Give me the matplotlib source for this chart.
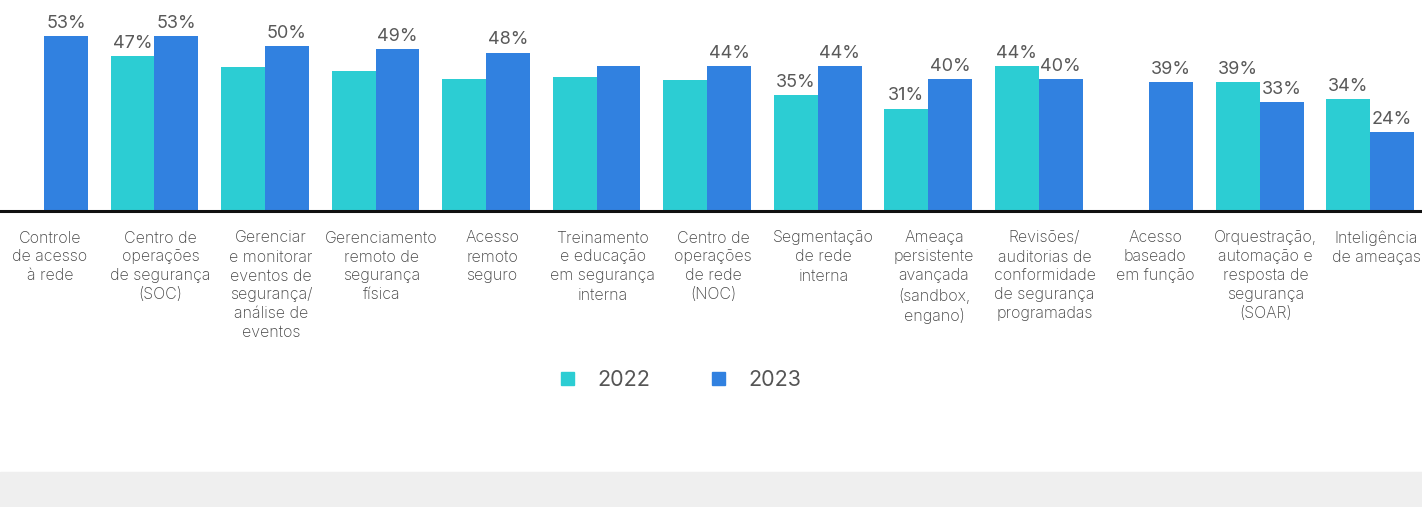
import numpy as np
import matplotlib.pyplot as plt
import matplotlib.transforms as mtransforms
from matplotlib.patches import Rectangle, Patch

plt.rcParams['font.family'] = ['Inter', 'DejaVu Sans']

categories = [
    "Controle\nde acesso\nà rede",
    "Centro de\noperações\nde segurança\n(SOC)",
    "Gerenciar\ne monitorar\neventos de\nsegurança/\nanálise de\neventos",
    "Gerenciamento\nremoto de\nsegurança\nfísica",
    "Acesso\nremoto\nseguro",
    "Treinamento\ne educação\nem segurança\ninterna",
    "Centro de\noperações\nde rede\n(NOC)",
    "Segmentação\nde rede\ninterna",
    "Ameaça\npersistente\navançada\n(sandbox,\nengano)",
    "Revisões/\nauditorias de\nconformidade\nde segurança\nprogramadas",
    "Acesso\nbaseado\nem função",
    "Orquestração,\nautomação e\nresposta de\nsegurança\n(SOAR)",
    "Inteligência\nde ameaças",
]
v2022 = [np.nan, 47, 43.5, 42.5, 40, 40.5, 39.7, 35, 31, 44, np.nan, 39, 34]
v2023 = [53, 53, 50, 49, 48, 44, 44, 44, 40, 40, 39, 33, 24]
lab2022 = ["", "47%", "", "", "", "", "", "35%", "31%", "44%", "", "39%", "34%"]
lab2023 = ["53%", "53%", "50%", "49%", "48%", "", "44%", "44%", "40%", "40%", "39%", "33%", "24%"]
series = ["2022", "2023"]

c22 = "#2ccdd3"
c23 = "#3181e0"

fig = plt.figure(figsize=(14.22, 5.07), dpi=100)
fig.patches.append(Rectangle((0, 0), 1, 35 / 507, transform=fig.transFigure,
                             color="#efefef", zorder=0))
ax = fig.add_axes([0, 1 - 211 / 507, 1, 211 / 507])

x = np.arange(len(categories))
w = 0.398
b1 = ax.bar(x - w / 2, v2022, w, color=c22)
b2 = ax.bar(x + w / 2, v2023, w, color=c23)
ax.bar_label(b1, labels=lab2022, padding=3, fontsize=13, color="#595959")
ax.bar_label(b2, labels=lab2023, padding=3, fontsize=13, color="#595959")

ax.set_xlim(-0.398, 12.47)
ax.set_ylim(0, 63.9)
ax.set_xticks(x)
ax.set_xticklabels(categories, fontsize=11.5, color="#444444",
                   fontweight="light", linespacing=1.33)
ax.tick_params(axis="x", length=0, pad=14)
shift = mtransforms.ScaledTranslation(6 / 100, 0, fig.dpi_scale_trans)
for t in ax.get_xticklabels():
    t.set_transform(t.get_transform() + shift)
ax.set_yticks([])
for s in ["top", "right", "left"]:
    ax.spines[s].set_visible(False)
ax.spines["bottom"].set_linewidth(2.2)
ax.spines["bottom"].set_color("#111111")

handles = [Patch(color=c22), Patch(color=c23)]
fig.legend(handles, series, loc="center", bbox_to_anchor=(681 / 1422, 1 - 380 / 507),
           ncol=2, frameon=False, fontsize=15.5, labelcolor="#555555",
           handlelength=0.6, handleheight=0.6, handletextpad=1.1, columnspacing=2.85)

fig.savefig("out.png", dpi=100)
